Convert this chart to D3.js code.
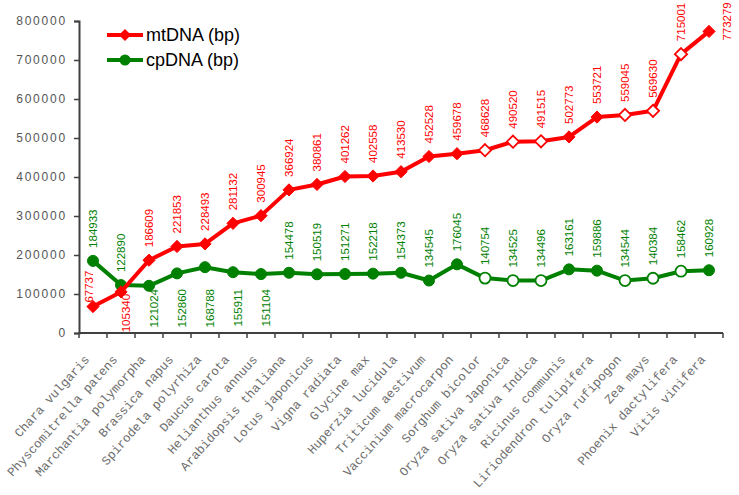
<!DOCTYPE html>
<html>
  <head>
    <meta charset="utf-8" />
    <title>mtDNA / cpDNA sizes</title>
    <script src="https://d3js.org/d3.v7.min.js"></script>
    <style>
      body {
        margin: 0;
        background: #fff;
      }
      .ytick text {
        font-family: "Liberation Sans", Arial, sans-serif;
        font-size: 12px;
        letter-spacing: 1.8px;
        fill: #555;
      }
      .xcat {
        font-family: "Liberation Mono", "Courier New", monospace;
        font-size: 12.5px;
        fill: #6e6e6e;
      }
      .dlabel {
        font-family: "Liberation Sans", Arial, sans-serif;
        font-size: 11.5px;
      }
      .legend text {
        font-family: "Liberation Sans", Arial, sans-serif;
        font-size: 18px;
        fill: #000;
      }
    </style>
  </head>
  <body>
    <svg id="chart"></svg>
    <script>
      // categories along the x axis
      const species = [
        "Chara vulgaris", "Physcomitrella patens", "Marchantia polymorpha",
        "Brassica napus", "Spirodela polyrhiza", "Daucus carota",
        "Helianthus annuus", "Arabidopsis thaliana", "Lotus japonicus",
        "Vigna radiata", "Glycine max", "Huperzia lucidula",
        "Triticum aestivum", "Vaccinium macrocarpon", "Sorghum bicolor",
        "Oryza sativa Japonica", "Oryza sativa Indica", "Ricinus communis",
        "Liriodendron tulipifera", "Oryza rufipogon", "Zea mays",
        "Phoenix dactylifera", "Vitis vinifera"
      ];

      // genome sizes (bp)
      const mtDNA = [
        67737, 105340, 186609, 221853, 228493, 281132, 300945, 366924,
        380861, 401262, 402558, 413530, 452528, 459678, 468628, 490520,
        491515, 502773, 553721, 559045, 569630, 715001, 773279
      ];
      const cpDNA = [
        184933, 122890, 121024, 152860, 168788, 155911, 151104, 154478,
        150519, 151271, 152218, 154373, 134545, 176045, 140754, 134525,
        134496, 163161, 159886, 134544, 140384, 158462, 160928
      ];

      // which points are drawn with open markers
      const openMarker = [
        false, false, false, false, false, false, false, false, false, false,
        false, false, false, false, true, true, true, false, false, true,
        true, true, false
      ];

      // where each value label sits relative to its point
      const mtLabelPos = [
        "over", "below", "above", "above", "above", "above", "above", "above",
        "above", "above", "above", "above", "above", "above", "above", "above",
        "above", "above", "above", "above", "above", "above", "right"
      ];
      const cpLabelPos = [
        "above", "above", "below", "below", "below", "below", "below", "above",
        "above", "above", "above", "above", "above", "above", "above", "above",
        "above", "above", "above", "above", "above", "above", "above"
      ];

      const yTicks = [0, 100000, 200000, 300000, 400000, 500000, 600000, 700000, 800000];

      const width = 739;
      const height = 495;
      const plotLeft = 79, plotRight = 723, plotTop = 21, plotBottom = 333;

      const svg = d3.select("#chart").attr("width", width).attr("height", height);

      const x = d3.scaleBand().domain(species).range([plotLeft, plotRight]);
      const y = d3.scaleLinear().domain([0, 800000]).range([plotBottom, plotTop]);

      // y axis
      const gy = svg.append("g")
        .attr("class", "ytick")
        .attr("transform", `translate(${plotLeft},0)`)
        .call(d3.axisLeft(y).tickValues(yTicks).tickSize(5).tickPadding(7).tickFormat(d3.format("d")));
      gy.select(".domain").attr("stroke", "#404040").attr("stroke-width", 2);
      gy.selectAll(".tick line").attr("stroke", "#404040").attr("stroke-width", 1.5);

      // x axis: ticks at band edges
      const gx = svg.append("g").attr("transform", `translate(0,${plotBottom})`);
      gx.append("line")
        .attr("x1", plotLeft).attr("x2", plotRight)
        .attr("stroke", "#404040").attr("stroke-width", 2);
      gx.selectAll(".edge")
        .data(species.concat(["end"]))
        .join("line")
        .attr("x1", (d, i) => plotLeft + i * x.bandwidth())
        .attr("x2", (d, i) => plotLeft + i * x.bandwidth())
        .attr("y1", 0).attr("y2", 5)
        .attr("stroke", "#404040").attr("stroke-width", 1.5);

      svg.append("g")
        .selectAll("text")
        .data(species)
        .join("text")
        .attr("class", "xcat")
        .attr("text-anchor", "end")
        .attr("transform", d => `translate(${x(d) + x.bandwidth() / 2 - 3},${plotBottom + 27}) rotate(-48)`)
        .text(d => d);

      const cx = d => x(d) + x.bandwidth() / 2;

      function drawSeries(values, color, shape, labelPos) {
        const pts = values.map((v, i) => ({ v, i, name: species[i] }));
        const g = svg.append("g");

        g.append("path")
          .datum(pts)
          .attr("fill", "none")
          .attr("stroke", color)
          .attr("stroke-width", 4)
          .attr("stroke-linejoin", "round")
          .attr("d", d3.line().x(d => cx(d.name)).y(d => y(d.v)));

        const sym = shape === "diamond"
          ? d3.symbol().type(d3.symbolDiamond2).size(95)
          : d3.symbol().type(d3.symbolCircle).size(95);

        g.selectAll(".mark")
          .data(pts)
          .join("path")
          .attr("d", sym)
          .attr("transform", d => `translate(${cx(d.name)},${y(d.v)})`)
          .attr("fill", d => (openMarker[d.i] ? "#fff" : color))
          .attr("stroke", color)
          .attr("stroke-width", d => (openMarker[d.i] ? 1.8 : 1));

        g.selectAll(".dlabel")
          .data(pts)
          .join("text")
          .attr("class", "dlabel")
          .attr("fill", color)
          .attr("text-anchor", d => {
            const p = labelPos[d.i];
            return p === "below" ? "end" : p === "right" ? "middle" : "start";
          })
          .attr("transform", d => {
            const px = cx(d.name), py = y(d.v);
            const p = labelPos[d.i];
            // labels under the line all start from a common row
            if (p === "below") return `translate(${px + 9},${Math.max(py + 2, plotBottom - 44)}) rotate(-90)`;
            if (p === "right") return `translate(${px + 22},${py - 10}) rotate(-90)`;
            if (p === "over") return `translate(${px},${py - 4}) rotate(-90)`;
            return `translate(${px + 4},${py - 13}) rotate(-90)`;
          })
          .text(d => d.v);
      }

      drawSeries(cpDNA, "#008000", "circle", cpLabelPos);
      drawSeries(mtDNA, "#ff0000", "diamond", mtLabelPos);

      // legend
      const legend = svg.append("g").attr("class", "legend");
      const items = [
        { name: "mtDNA (bp)", color: "#ff0000", shape: d3.symbolDiamond2 },
        { name: "cpDNA (bp)", color: "#008000", shape: d3.symbolCircle }
      ];
      items.forEach((it, i) => {
        const ly = 35 + i * 25;
        legend.append("line")
          .attr("x1", 107).attr("x2", 143).attr("y1", ly).attr("y2", ly)
          .attr("stroke", it.color).attr("stroke-width", 4);
        legend.append("path")
          .attr("d", d3.symbol().type(it.shape).size(95))
          .attr("transform", `translate(125,${ly})`)
          .attr("fill", it.color);
        legend.append("text")
          .attr("x", 146).attr("y", ly).attr("dy", "0.35em")
          .text(it.name);
      });
    </script>
  </body>
</html>
